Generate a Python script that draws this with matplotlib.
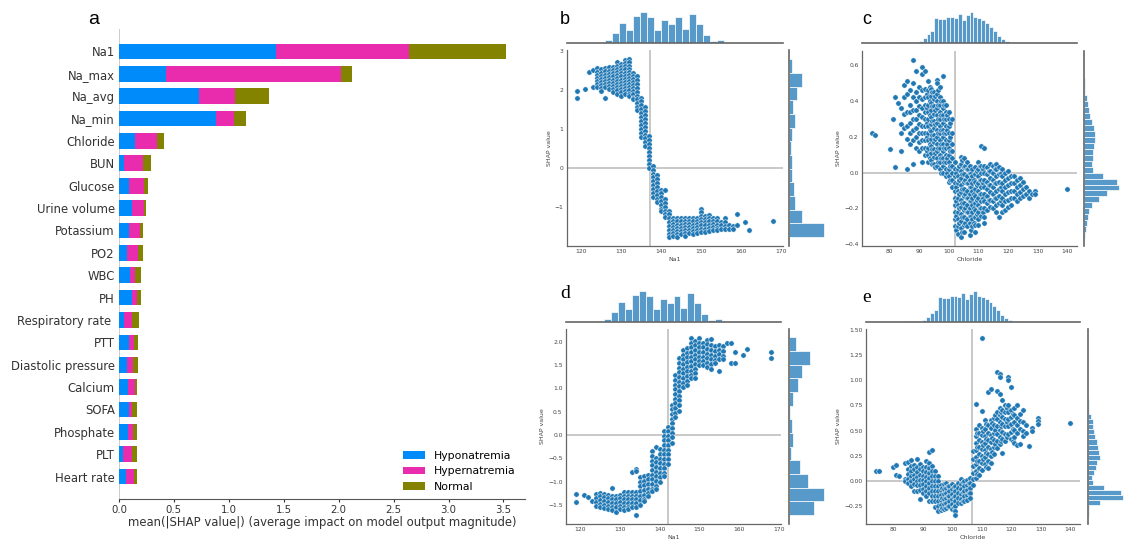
import numpy as np
import matplotlib
matplotlib.use('Agg')
import matplotlib.pyplot as plt

# ---- panel a: mean |SHAP| per feature and class ----
features = ['Na1', 'Na_max', 'Na_avg', 'Na_min', 'Chloride', 'BUN', 'Glucose',
            'Urine volume', 'Potassium', 'PO2', 'WBC', 'PH', 'Respiratory rate ',
            'PTT', 'Diastolic pressure', 'Calcium', 'SOFA', 'Phosphate', 'PLT',
            'Heart rate']
hypo = [1.43, 0.43, 0.73, 0.88, 0.15, 0.05, 0.09, 0.12, 0.09, 0.07, 0.10, 0.12,
        0.05, 0.09, 0.07, 0.08, 0.09, 0.08, 0.035, 0.065]
hyper = [1.21, 1.59, 0.33, 0.17, 0.20, 0.17, 0.14, 0.11, 0.10, 0.10, 0.05, 0.04,
         0.07, 0.05, 0.06, 0.07, 0.03, 0.05, 0.085, 0.075]
normal = [0.88, 0.10, 0.31, 0.11, 0.06, 0.07, 0.03, 0.02, 0.03, 0.05, 0.05, 0.04,
          0.06, 0.03, 0.04, 0.015, 0.045, 0.035, 0.045, 0.02]
classes = ['Hyponatremia', 'Hypernatremia', 'Normal']

# ---- marginal histograms (bin start, bin width, counts) ----
na1_start, na1_width = 119, 1.75
na1_counts = [0.3, 0.3, 1, 2, 10, 30, 58, 38, 80, 93, 77, 37, 68, 55, 77, 40, 87,
              55, 24, 5, 8, 1, 0.5, 0.3, 0.3, 0, 0, 0.3]
cl_start, cl_width = 74, 1.32
cl_counts = [0.5, 0, 0, 0, 0.5, 0.5, 1, 2, 4, 3, 2, 4, 7, 14, 27, 35, 73, 70, 72,
             76, 76, 73, 85, 68, 82, 93, 78, 75, 67, 58, 48, 36, 20, 12, 6, 3, 2,
             1, 1, 0.5, 1, 0, 0, 0, 0, 0, 0, 0, 0, 0.5]
b_shap_start, b_shap_width = -1.78, 0.351
b_shap_counts = [35, 13, 5.7, 4.7, 3.3, 3, 1.7, 3.3, 6.3, 4, 8, 13.3, 3]
d_shap_start, d_shap_width = -1.72, 0.293
d_shap_counts = [24.7, 34.7, 18.7, 11.3, 2, 4, 2.7, 1, 3.7, 8.7, 13, 20.7, 7]
c_shap_start, c_shap_width = -0.365, 0.0332
c_shap_counts = [1, 1.7, 2.7, 3.7, 4.5, 8, 14.7, 22.7, 35, 32.7, 19.3, 8.7, 8, 8.7,
                 9.3, 10, 11, 11.3, 10, 8, 6, 5, 3.7, 2.5, 1.3, 0.8, 0.5, 0.3,
                 0.2, 0.2]
e_shap_start, e_shap_width = -0.345, 0.0504
e_shap_counts = [0.5, 1, 12, 35, 33, 16, 5, 3.5, 6, 8, 9, 12, 11, 10, 8.5, 7, 5.5,
                 5, 4.5, 2.5, 1.3, 1, 0.7, 0.4, 0.3, 0.2, 0.2, 0.2, 0.1, 0, 0, 0,
                 0, 0, 0.1]

# ---- scatter points: feature value -> SHAP values ----
b_points = {
    119: [1.96, 1.80], 121: [2.02], 122: [2.45], 123: [2.50, 2.07],
    124: [2.56, 2.46, 2.38, 2.30, 2.22, 2.14, 2.07],
    125: [2.52, 2.44, 2.36, 2.28, 2.20, 2.12, 2.04, 1.96],
    126: [2.55, 2.47, 2.39, 2.31, 2.23, 2.15, 2.07, 1.80],
    127: [2.57, 2.49, 2.41, 2.33, 2.25, 2.17, 2.09, 2.02],
    128: [2.58, 2.50, 2.42, 2.34, 2.26, 2.18, 2.10, 2.02, 1.95],
    129: [2.70, 2.62, 2.54, 2.46, 2.38, 2.30, 2.22, 2.14, 2.06, 1.98, 1.88],
    130: [2.66, 2.58, 2.50, 2.42, 2.34, 2.26, 2.18, 2.10, 2.02, 1.94, 1.84],
    131: [2.76, 2.68, 2.60, 2.52, 2.44, 2.36, 2.28, 2.20, 2.12, 2.04, 1.96, 1.88],
    132: [2.79, 2.70, 2.62, 2.54, 2.46, 2.38, 2.30, 2.22, 2.14, 2.06, 1.98, 1.90, 1.83],
    133: [2.44, 2.36, 2.28, 2.20, 2.12, 2.04, 1.96, 1.88, 1.80, 1.75],
    134: [2.35, 2.25, 2.15, 2.05, 1.95, 1.85, 1.75, 1.65, 1.55, 1.48],
    135: [1.80, 1.70, 1.60, 1.50, 1.40, 1.30, 1.20, 1.10, 1.00, 0.90, 0.78],
    136: [1.55, 1.45, 1.35, 1.25, 1.15, 1.05, 0.95, 0.85, 0.75, 0.65, 0.55],
    137: [0.80, 0.70, 0.60, 0.50, 0.40, 0.30, 0.20, 0.10, 0.00],
    138: [0.05, -0.05, -0.15, -0.25, -0.35, -0.45, -0.55, -0.65, -0.75],
    139: [-0.20, -0.30, -0.40, -0.50, -0.60, -0.70, -0.80, -0.88],
    140: [-0.58, -0.65, -0.75, -0.85, -0.95, -1.05, -1.12],
    141: [-0.57, -0.80, -0.90, -1.00, -1.10, -1.20, -1.27],
    142: [-1.10, -1.20, -1.30, -1.40, -1.50, -1.60, -1.70, -1.78],
    143: [-1.28, -1.36, -1.44, -1.52, -1.60, -1.68, -1.75],
    144: [-1.30, -1.38, -1.46, -1.54, -1.62, -1.70, -1.78],
    145: [-1.30, -1.38, -1.46, -1.54, -1.62, -1.70],
    146: [-1.28, -1.36, -1.44, -1.52, -1.60, -1.68, -1.76],
    147: [-1.28, -1.36, -1.44, -1.52, -1.60, -1.68],
    148: [-1.30, -1.38, -1.46, -1.54, -1.62, -1.70],
    149: [-1.28, -1.36, -1.44, -1.52, -1.60, -1.68],
    150: [-1.06, -1.14, -1.24, -1.32, -1.40, -1.48, -1.56, -1.64],
    151: [-1.24, -1.32, -1.40, -1.48, -1.56, -1.64],
    152: [-1.22, -1.30, -1.38, -1.46, -1.54, -1.62],
    153: [-1.28, -1.36, -1.44, -1.52, -1.60],
    154: [-1.30, -1.38, -1.46, -1.54, -1.60],
    155: [-1.40, -1.48, -1.56], 156: [-1.28, -1.40, -1.50, -1.56],
    157: [-1.48, -1.56], 158: [-1.50, -1.56], 159: [-1.18, -1.48],
    161: [-1.40], 162: [-1.60], 168: [-1.36],
}

d_points = {
    119: [-1.26, -1.44], 121: [-1.28], 122: [-1.33], 123: [-1.42],
    124: [-1.27, -1.35, -1.43, -1.52],
    125: [-1.24, -1.32, -1.40, -1.48, -1.54],
    126: [-1.26, -1.34, -1.42, -1.50, -1.56],
    127: [-1.28, -1.36, -1.44, -1.52, -1.58],
    128: [-1.13, -1.30, -1.38, -1.46, -1.54, -1.60],
    129: [-1.30, -1.38, -1.46, -1.54, -1.65],
    130: [-1.28, -1.36, -1.44, -1.52, -1.58],
    131: [-1.22, -1.30, -1.38, -1.46, -1.54, -1.60],
    132: [-1.22, -1.30, -1.38, -1.46, -1.54, -1.58],
    133: [-0.80, -1.22, -1.30, -1.38, -1.46, -1.54],
    134: [-0.73, -0.78, -1.22, -1.30, -1.38, -1.46, -1.54, -1.72],
    135: [-0.90, -1.00, -1.10, -1.20, -1.30, -1.40, -1.50],
    136: [-0.88, -0.98, -1.08, -1.18, -1.28, -1.38, -1.42],
    137: [-0.85, -0.95, -1.05, -1.15, -1.25, -1.31],
    138: [-0.35, -0.45, -0.55, -0.65, -0.75, -0.85, -0.95, -1.05, -1.15, -1.20],
    139: [-0.27, -0.49, -0.59, -0.69, -0.79, -0.89, -0.99, -1.09, -1.17],
    140: [-0.31, -0.41, -0.51, -0.61, -0.71, -0.81, -0.91, -1.02],
    141: [0.08, -0.02, -0.12, -0.22, -0.32, -0.42, -0.52, -0.62, -0.72, -0.82, -0.88],
    142: [0.18, 0.08, -0.02, -0.12, -0.22, -0.32, -0.42, -0.52, -0.63],
    143: [0.65, 0.55, 0.45, 0.35, 0.25, 0.15, 0.05, -0.05, -0.17],
    144: [1.28, 1.18, 1.08, 0.98, 0.88, 0.78, 0.68, 0.58, 0.48, 0.38],
    145: [1.64, 1.54, 1.44, 1.34, 1.24, 1.14, 1.04, 0.94, 0.84, 0.74, 0.64, 0.52],
    146: [1.82, 1.72, 1.62, 1.52, 1.42, 1.32, 1.22, 1.12, 1.02],
    147: [1.86, 1.76, 1.66, 1.56, 1.46, 1.36, 1.26, 1.16, 1.06],
    148: [2.08, 1.98, 1.88, 1.78, 1.68, 1.58, 1.48, 1.38, 1.28, 1.22],
    149: [2.02, 1.92, 1.82, 1.72, 1.62, 1.52, 1.42, 1.32, 1.22],
    150: [2.08, 1.98, 1.88, 1.78, 1.68, 1.58, 1.50],
    151: [1.98, 1.88, 1.78, 1.68, 1.58, 1.50],
    152: [2.04, 1.94, 1.84, 1.74, 1.64, 1.54, 1.46],
    153: [2.06, 1.92, 1.82, 1.72, 1.62, 1.52, 1.42],
    154: [1.90, 1.80, 1.70, 1.60, 1.55],
    155: [1.93, 1.83, 1.73, 1.63, 1.38],
    156: [1.90, 1.80, 1.70, 1.62],
    157: [1.96], 158: [1.96, 1.54], 159: [1.78, 1.54], 161: [1.71],
    162: [1.84], 168: [1.78, 1.64],
}

c_points = {
    74: [0.22], 75: [0.21], 80: [0.13], 81: [0.30], 82: [0.42, 0.03], 83: [0.39],
    84: [0.36, 0.27, 0.22, 0.12],
    85: [0.49, 0.42, 0.33, 0.25],
    86: [0.51, 0.44, 0.34, 0.26, 0.19, 0.02],
    87: [0.46, 0.38, 0.34, 0.28, 0.22, 0.16],
    88: [0.63, 0.50, 0.42, 0.35, 0.30, 0.24, 0.18, 0.05],
    89: [0.57, 0.45, 0.40, 0.35, 0.30, 0.25, 0.20, 0.14],
    90: [0.48, 0.42, 0.37, 0.32, 0.27, 0.22, 0.17, 0.12],
    91: [0.59, 0.55, 0.46, 0.41, 0.36, 0.31, 0.26, 0.22, 0.18, 0.14, 0.06],
    92: [0.57, 0.47, 0.42, 0.38, 0.34, 0.30, 0.26, 0.22, 0.18, 0.14, 0.10],
    92.5: [0.44, 0.36, 0.28, 0.20, 0.12],
    93: [0.51, 0.46, 0.42, 0.38, 0.34, 0.30, 0.26, 0.22, 0.18, 0.14, 0.10, 0.06],
    93.5: [0.48, 0.40, 0.32, 0.24, 0.16, 0.08],
    94: [0.47, 0.43, 0.39, 0.35, 0.31, 0.27, 0.23, 0.19, 0.15, 0.11, 0.07],
    94.5: [0.45, 0.37, 0.29, 0.21, 0.13, 0.05],
    95: [0.45, 0.41, 0.37, 0.33, 0.29, 0.25, 0.21, 0.17, 0.13, 0.09, 0.05],
    95.5: [0.43, 0.35, 0.27, 0.19, 0.11, 0.03],
    96: [0.52, 0.50, 0.44, 0.40, 0.36, 0.32, 0.28, 0.24, 0.20, 0.16, 0.12, 0.08, 0.04],
    96.5: [0.46, 0.38, 0.30, 0.22, 0.14, 0.06],
    97: [0.48, 0.42, 0.38, 0.34, 0.30, 0.26, 0.22, 0.18, 0.14, 0.10, 0.06, 0.02],
    97.5: [0.40, 0.32, 0.24, 0.16, 0.08, 0.00],
    98: [0.54, 0.40, 0.36, 0.32, 0.28, 0.24, 0.20, 0.16, 0.12, 0.08, 0.04, 0.00],
    98.5: [0.38, 0.30, 0.22, 0.14, 0.06],
    99: [0.38, 0.34, 0.30, 0.26, 0.22, 0.18, 0.14, 0.10, 0.06, 0.02, -0.02],
    99.5: [0.32, 0.24, 0.16, 0.08, 0.00],
    100: [0.34, 0.30, 0.26, 0.22, 0.18, 0.14, 0.10, 0.06, 0.02, -0.02, -0.05],
    100.5: [0.28, 0.20, 0.12, 0.04, -0.04],
    101: [0.30, 0.22, 0.16, 0.12, 0.08, 0.04, 0.00, -0.04, -0.08],
    102: [0.06, 0.02, -0.02, -0.06, -0.10, -0.14, -0.18, -0.22, -0.26, -0.30],
    102.5: [0.00, -0.08, -0.16, -0.24, -0.32],
    103: [0.02, -0.02, -0.06, -0.10, -0.14, -0.18, -0.22, -0.26, -0.30, -0.34],
    103.5: [0.04, -0.04, -0.12, -0.20, -0.28],
    104: [0.09, 0.05, 0.01, -0.03, -0.07, -0.11, -0.15, -0.19, -0.23, -0.27, -0.31, -0.36],
    104.5: [0.07, -0.01, -0.09, -0.17, -0.25, -0.33],
    105: [0.08, 0.03, -0.01, -0.05, -0.09, -0.13, -0.17, -0.21, -0.25, -0.29, -0.33],
    105.5: [0.04, -0.04, -0.12, -0.20, -0.28],
    106: [0.06, 0.02, -0.02, -0.06, -0.10, -0.14, -0.18, -0.22, -0.26, -0.30],
    106.5: [0.02, -0.06, -0.14, -0.22],
    107: [0.04, 0.00, -0.04, -0.08, -0.12, -0.16, -0.20, -0.24, -0.28, -0.35],
    107.5: [0.00, -0.08, -0.16, -0.24, -0.32],
    108: [0.02, -0.02, -0.06, -0.10, -0.14, -0.18, -0.22, -0.26, -0.30],
    108.5: [-0.04, -0.12, -0.20, -0.28],
    109: [0.03, -0.01, -0.05, -0.09, -0.13, -0.17, -0.21, -0.25, -0.29, -0.33],
    109.5: [0.01, -0.07, -0.15, -0.23],
    110: [0.06, 0.02, -0.02, -0.06, -0.10, -0.14, -0.18, -0.22, -0.26, -0.29],
    110.5: [0.04, -0.04, -0.12, -0.20],
    111: [0.15, 0.04, 0.00, -0.04, -0.08, -0.12, -0.16, -0.20, -0.24],
    111.5: [0.02, -0.06, -0.14, -0.22],
    112: [0.14, 0.04, 0.00, -0.04, -0.08, -0.12, -0.16, -0.20, -0.25, -0.28],
    113: [0.03, -0.01, -0.05, -0.09, -0.13, -0.17, -0.21],
    113.5: [0.01, -0.07, -0.15],
    114: [0.05, 0.01, -0.03, -0.07, -0.11, -0.15, -0.19],
    115: [0.04, 0.00, -0.04, -0.08, -0.12, -0.16, -0.20],
    115.5: [0.02, -0.06, -0.14],
    116: [0.05, 0.02, -0.02, -0.06, -0.10, -0.14, -0.18, -0.22],
    117: [0.03, -0.01, -0.05, -0.09, -0.13, -0.17, -0.25],
    117.5: [0.00, -0.08, -0.16],
    118: [0.02, -0.02, -0.06, -0.10, -0.14, -0.18, -0.22],
    119: [0.00, -0.04, -0.08, -0.12, -0.16, -0.21],
    120: [0.01, -0.03, -0.07, -0.11, -0.15, -0.19],
    121: [-0.02, -0.06, -0.10, -0.14, -0.18],
    122: [-0.02, -0.06, -0.10, -0.14],
    123: [-0.04, -0.08, -0.12, -0.16],
    124: [-0.03, -0.07, -0.11, -0.14],
    125: [-0.05, -0.09, -0.13], 126: [-0.08, -0.12], 127: [-0.10, -0.14],
    128: [-0.12], 129: [-0.10, -0.12], 140: [-0.09],
}

e_points = {
    74: [0.10], 75: [0.10], 80: [0.14], 81: [0.16, 0.06], 82: [0.05],
    84: [0.18, 0.02, 0.00],
    85: [0.19, 0.12, 0.07, 0.02, -0.02],
    86: [0.21, 0.15, 0.10, 0.05, 0.00, -0.05],
    87: [0.16, 0.12, 0.06, 0.02, -0.03, -0.10],
    88: [0.22, 0.14, 0.09, 0.04, 0.00, -0.04, -0.10],
    89: [0.17, 0.12, 0.06, 0.01, -0.04, -0.09, -0.18],
    90: [0.14, 0.10, 0.05, 0.01, -0.03, -0.08, -0.12],
    91: [0.20, 0.14, 0.09, 0.04, 0.00, -0.05, -0.10, -0.15],
    92: [0.29, 0.18, 0.13, 0.08, 0.03, -0.02, -0.07, -0.12, -0.20],
    93: [0.31, 0.15, 0.10, 0.05, 0.00, -0.05, -0.10, -0.15, -0.20],
    94: [0.10, 0.05, 0.00, -0.05, -0.10, -0.15, -0.20, -0.26],
    95: [0.05, 0.00, -0.05, -0.10, -0.15, -0.20, -0.25, -0.30],
    96: [-0.04, -0.09, -0.14, -0.19, -0.24, -0.29],
    96.5: [-0.07, -0.17, -0.27],
    97: [-0.03, -0.08, -0.13, -0.18, -0.23, -0.28],
    98: [-0.02, -0.07, -0.12, -0.17, -0.22, -0.27],
    98.5: [-0.05, -0.15, -0.25],
    99: [-0.05, -0.10, -0.15, -0.20, -0.25],
    100: [-0.03, -0.08, -0.13, -0.18, -0.23, -0.28],
    100.5: [-0.06, -0.16, -0.26],
    101: [-0.05, -0.10, -0.15, -0.20, -0.25, -0.30, -0.34],
    102: [-0.02, -0.07, -0.12, -0.17, -0.22],
    103: [0.02, -0.03, -0.08, -0.13, -0.18, -0.22],
    103.5: [-0.01, -0.11, -0.20],
    104: [0.00, -0.05, -0.10, -0.15, -0.20],
    105: [0.01, -0.04, -0.09, -0.14, -0.19],
    105.5: [-0.02, -0.12],
    106: [0.03, -0.02, -0.07, -0.12, -0.17],
    107: [0.30, 0.22, 0.15, 0.08, 0.02, -0.04],
    108: [0.76, 0.52, 0.45, 0.38, 0.31, 0.24, 0.17, 0.10, 0.03],
    108.5: [0.48, 0.34, 0.20, 0.07],
    109: [0.55, 0.48, 0.41, 0.34, 0.27, 0.20, 0.13, 0.06],
    110: [1.42, 0.69, 0.53, 0.46, 0.39, 0.32, 0.25, 0.18, 0.11],
    110.5: [0.50, 0.36, 0.22],
    111: [0.60, 0.52, 0.45, 0.38, 0.31, 0.24, 0.17],
    111.5: [0.56, 0.42, 0.28, 0.14],
    112: [0.88, 0.55, 0.48, 0.41, 0.34, 0.27, 0.20, 0.13],
    113: [0.91, 0.60, 0.53, 0.46, 0.39, 0.32, 0.25, 0.18],
    113.5: [0.57, 0.43, 0.29],
    114: [0.62, 0.55, 0.48, 0.41, 0.34, 0.27],
    114.5: [0.65, 0.51, 0.37],
    115: [1.08, 0.89, 0.68, 0.61, 0.54, 0.47, 0.40, 0.33],
    116: [1.06, 1.03, 0.86, 0.72, 0.65, 0.58, 0.51, 0.44, 0.37],
    116.5: [0.68, 0.54, 0.40],
    117: [0.80, 0.70, 0.63, 0.56, 0.49, 0.42, 0.28],
    118: [0.75, 0.68, 0.61, 0.54, 0.47, 0.40],
    118.5: [0.72, 0.58, 0.44],
    119: [1.03, 1.00, 0.75, 0.68, 0.61, 0.54, 0.47],
    120: [0.93, 0.70, 0.63, 0.56, 0.49, 0.42],
    120.5: [0.66, 0.52, 0.40],
    121: [0.72, 0.65, 0.58, 0.51, 0.44, 0.38],
    122: [0.75, 0.62, 0.55, 0.48, 0.36],
    123: [0.66, 0.59, 0.52, 0.37],
    124: [0.70, 0.58, 0.50, 0.45],
    125: [0.55, 0.48], 126: [0.35], 127: [0.53, 0.50],
    129: [0.62, 0.59, 0.56], 140: [0.57],
}

W, H = 1131, 549
fig = plt.figure(figsize=(W / 100, H / 100), dpi=100)


def rect(x0, y0, x1, y1):
    # pixel box (top-left origin) -> figure fraction
    return [x0 / W, (H - y1) / H, (x1 - x0) / W, (y1 - y0) / H]


def letter(x, y, s, family, size):
    fig.text(x / W, 1 - y / H, s, family=family, fontsize=size, va='baseline')


# ================= panel a =================
bar_colors = ['#008bfb', '#e92cae', '#838300']
ax = fig.add_axes(rect(119, 29, 525, 499))
ypos = np.arange(len(features))[::-1]
left = np.zeros(len(features))
for vals, col, lab in zip([hypo, hyper, normal], bar_colors, classes):
    ax.barh(ypos, vals, left=left, height=0.7, color=col, label=lab)
    left = left + np.array(vals)
ax.set_ylim(-1, len(features))
ax.set_yticks(ypos)
ax.set_yticklabels(features, fontsize=8.4, color='#333333')
ax.set_xticks(np.arange(0, 3.6, 0.5))
ax.tick_params(axis='x', labelsize=7.3, colors='#333333', length=2, width=0.8,
               pad=2)
ax.tick_params(axis='y', length=0, pad=3)
for s in ['top', 'right', 'left']:
    ax.spines[s].set_visible(False)
ax.spines['bottom'].set_color('#555555')
ax.axvline(0, color='#cccccc', lw=1.4, zorder=0)
ax.set_xlabel('mean(|SHAP value|) (average impact on model output magnitude)',
              fontsize=8.4, color='#333333', labelpad=1)
ax.legend(loc='lower right', frameon=False, fontsize=7.8,
          bbox_to_anchor=(1.0, -0.005))
letter(88, 24, 'a', 'Liberation Sans', 14)

# ================= joint panels =================
pt_color = '#1f77b4'
hist_color = '#5799c9'
line_color = '#c8c8c8'
spine_color = '#666666'
tick_fs = 4.3


def joint(main_r, top_r, right_r, pts, xstart, xwidth, xcounts, ystart, ywidth,
          ycounts, vline, xlabel, xticks, yticks, yfmt):
    ax = fig.add_axes(rect(*main_r))
    xs, ys = [], []
    for k, v in pts.items():
        xs += [k] * len(v)
        ys += v
    ax.scatter(xs, ys, s=15, c=pt_color, edgecolors='white', linewidths=0.35,
               zorder=3)
    ax.axvline(vline, color=line_color, lw=1.4, zorder=1)
    ax.axhline(0, color=line_color, lw=1.4, zorder=1)
    ax.set_xticks(xticks)
    ax.set_yticks(yticks)
    ax.set_yticklabels([yfmt.format(t).replace('-', '\u2212') for t in yticks])
    ax.tick_params(length=0, pad=2.5, labelsize=tick_fs, colors='#444444')
    ax.set_xlabel(xlabel, fontsize=tick_fs + 0.2, color='#444444', labelpad=1.5)
    ax.set_ylabel('SHAP value', fontsize=tick_fs + 0.2, color='#444444',
                  labelpad=2)
    for s in ['top', 'right']:
        ax.spines[s].set_visible(False)
    for s in ['left', 'bottom']:
        ax.spines[s].set_color(spine_color)
        ax.spines[s].set_linewidth(0.9)

    # top marginal
    axt = fig.add_axes(rect(*top_r))
    xedges = xstart + xwidth * np.arange(len(xcounts))
    axt.bar(xedges, xcounts, width=xwidth, align='edge', color=hist_color,
            edgecolor='white', linewidth=0.5)
    axt.set_xlim(ax.get_xlim())
    axt.set_ylim(0, max(xcounts) * 1.05)
    axt.axis('off')
    axt.axhline(0, color=spine_color, lw=1.2, clip_on=False)

    # right marginal
    axr = fig.add_axes(rect(*right_r))
    yedges = ystart + ywidth * np.arange(len(ycounts))
    axr.barh(yedges, ycounts, height=ywidth, align='edge', color=hist_color,
             edgecolor='white', linewidth=0.5)
    axr.set_ylim(ax.get_ylim())
    axr.set_xlim(0, max(ycounts) * 1.05)
    axr.axis('off')
    axr.axvline(0, color=spine_color, lw=1.2, clip_on=False)


joint((567, 50, 783, 246), (567, 10, 783, 43), (789, 50, 826, 246),
      b_points, na1_start, na1_width, na1_counts,
      b_shap_start, b_shap_width, b_shap_counts, 137.3, 'Na1',
      [120, 130, 140, 150, 160, 170], [-1, 0, 1, 2, 3], '{:d}')
joint((862, 51, 1077, 246), (862, 10, 1077, 43), (1084, 51, 1121, 246),
      c_points, cl_start, cl_width, cl_counts,
      c_shap_start, c_shap_width, c_shap_counts, 102, 'Chloride',
      [80, 90, 100, 110, 120, 130, 140], [-0.4, -0.2, 0.0, 0.2, 0.4, 0.6], '{:.1f}')
joint((566, 329, 781, 524), (566, 289, 781, 322), (789, 329, 826, 524),
      d_points, na1_start, na1_width, na1_counts,
      d_shap_start, d_shap_width, d_shap_counts, 142.2, 'Na1',
      [120, 130, 140, 150, 160, 170],
      [-1.5, -1.0, -0.5, 0.0, 0.5, 1.0, 1.5, 2.0], '{:.1f}')
joint((866, 329, 1080, 524), (866, 289, 1080, 322), (1088, 329, 1125, 524),
      e_points, cl_start, cl_width, cl_counts,
      e_shap_start, e_shap_width, e_shap_counts, 106.5, 'Chloride',
      [80, 90, 100, 110, 120, 130, 140],
      [-0.25, 0.0, 0.25, 0.5, 0.75, 1.0, 1.25, 1.5], '{:.2f}')

letter(560, 24, 'b', 'Liberation Sans', 13)
letter(862, 24, 'c', 'Liberation Sans', 13)
letter(560, 298, 'd', 'Liberation Serif', 14)
letter(862, 302, 'e', 'Liberation Serif', 14)

fig.savefig('out.png', dpi=100)
